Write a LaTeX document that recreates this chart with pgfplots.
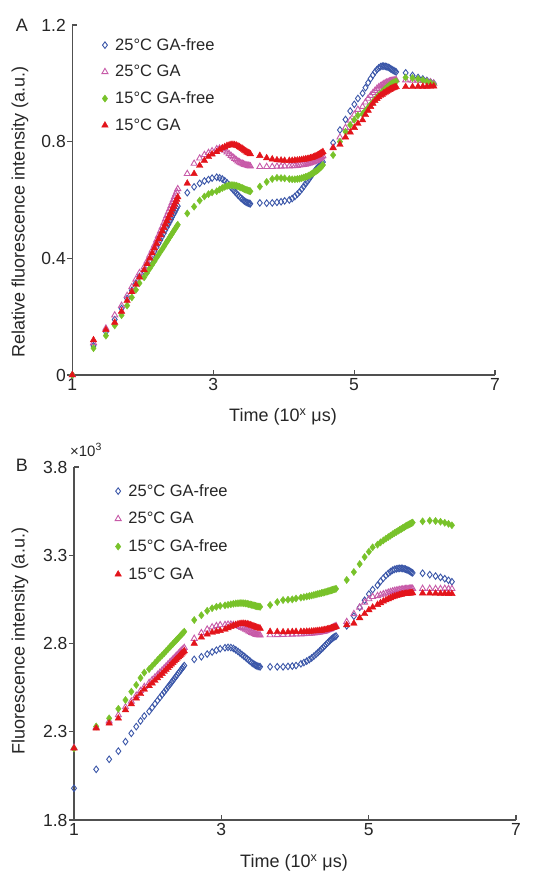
\documentclass[border=0pt]{standalone}
\usepackage{fontspec}
\setmainfont{Liberation Sans}
\usepackage{pgfplots}
\usepackage{pgfplotstable}
\pgfplotsset{compat=1.18}
\definecolor{cblue}{HTML}{3A56A8}
\definecolor{cpink}{HTML}{C75AA8}
\definecolor{cgreen}{HTML}{78C22A}
\definecolor{cred}{HTML}{E3141B}
\definecolor{axgray}{HTML}{505050}

\pgfplotstableread{
x b p g r
1.000 0 0 0 0
1.301 0.100 0.110 0.092 0.120
1.477 0.148 0.160 0.135 0.155
1.602 0.190 0.205 0.170 0.180
1.699 0.228 0.238 0.205 0.218
1.778 0.262 0.272 0.238 0.255
1.845 0.290 0.302 0.266 0.285
1.903 0.315 0.328 0.292 0.310
1.954 0.338 0.350 0.315 0.335
2.020 0.355 0.370 0.335 0.360
2.061 0.374 0.390 0.350 0.381
2.099 0.392 0.410 0.365 0.400
2.134 0.409 0.428 0.378 0.418
2.166 0.424 0.445 0.390 0.435
2.196 0.438 0.462 0.402 0.451
2.224 0.451 0.478 0.412 0.466
2.250 0.463 0.493 0.422 0.480
2.275 0.475 0.507 0.431 0.493
2.299 0.486 0.521 0.440 0.505
2.321 0.497 0.534 0.449 0.517
2.342 0.507 0.546 0.457 0.528
2.362 0.516 0.558 0.464 0.538
2.382 0.525 0.569 0.472 0.549
2.400 0.533 0.580 0.479 0.558
2.418 0.542 0.591 0.485 0.568
2.435 0.550 0.601 0.492 0.577
2.451 0.557 0.611 0.498 0.585
2.467 0.565 0.620 0.504 0.594
2.482 0.572 0.629 0.510 0.602
2.497 0.579 0.638 0.515 0.610
2.632 0.625 0.690 0.554 0.657
2.729 0.645 0.725 0.577 0.690
2.808 0.657 0.743 0.598 0.718
2.875 0.665 0.755 0.612 0.735
2.933 0.670 0.762 0.620 0.748
2.984 0.675 0.768 0.626 0.757
3.050 0.678 0.775 0.630 0.765
3.091 0.676 0.777 0.636 0.772
3.129 0.672 0.775 0.641 0.778
3.164 0.666 0.770 0.645 0.782
3.196 0.659 0.764 0.648 0.786
3.226 0.651 0.758 0.650 0.788
3.254 0.643 0.752 0.651 0.790
3.280 0.636 0.747 0.651 0.790
3.305 0.629 0.742 0.650 0.789
3.329 0.623 0.737 0.649 0.787
3.351 0.617 0.733 0.647 0.785
3.372 0.612 0.730 0.645 0.782
3.392 0.607 0.727 0.643 0.779
3.412 0.603 0.725 0.641 0.776
3.430 0.599 0.723 0.639 0.773
3.448 0.596 0.721 0.637 0.770
3.465 0.593 0.720 0.635 0.767
3.481 0.591 0.719 0.634 0.764
3.497 0.589 0.718 0.632 0.762
3.512 0.588 0.717 0.631 0.760
3.527 0.587 0.716 0.630 0.758
3.662 0.590 0.714 0.646 0.752
3.759 0.589 0.714 0.662 0.744
3.838 0.590 0.714 0.672 0.740
3.905 0.592 0.715 0.676 0.737
3.963 0.594 0.715 0.675 0.736
4.014 0.597 0.716 0.674 0.735
4.080 0.600 0.716 0.672 0.735
4.121 0.605 0.717 0.671 0.735
4.159 0.612 0.717 0.671 0.736
4.194 0.620 0.718 0.672 0.736
4.226 0.628 0.719 0.673 0.737
4.256 0.637 0.720 0.675 0.738
4.284 0.646 0.721 0.677 0.739
4.310 0.655 0.722 0.679 0.740
4.335 0.663 0.724 0.681 0.741
4.359 0.671 0.725 0.684 0.742
4.381 0.679 0.727 0.687 0.744
4.402 0.686 0.729 0.690 0.745
4.422 0.693 0.731 0.693 0.747
4.442 0.699 0.733 0.696 0.749
4.460 0.705 0.735 0.699 0.751
4.478 0.710 0.737 0.702 0.753
4.495 0.715 0.740 0.705 0.755
4.511 0.719 0.742 0.709 0.757
4.527 0.723 0.745 0.712 0.760
4.542 0.727 0.748 0.716 0.762
4.557 0.730 0.751 0.720 0.765
4.702 0.796 0.780 0.754 0.778
4.799 0.840 0.815 0.800 0.790
4.878 0.876 0.848 0.834 0.815
4.945 0.905 0.873 0.857 0.832
5.003 0.928 0.893 0.875 0.848
5.054 0.948 0.910 0.890 0.862
5.120 0.966 0.920 0.895 0.874
5.161 0.985 0.935 0.906 0.892
5.199 1.002 0.948 0.917 0.907
5.234 1.016 0.958 0.927 0.920
5.266 1.028 0.967 0.936 0.931
5.296 1.039 0.975 0.944 0.940
5.324 1.047 0.982 0.952 0.947
5.350 1.053 0.987 0.959 0.953
5.375 1.057 0.991 0.965 0.958
5.399 1.059 0.995 0.971 0.962
5.421 1.059 0.998 0.976 0.966
5.442 1.058 1.001 0.981 0.969
5.462 1.057 1.003 0.985 0.972
5.482 1.055 1.005 0.989 0.975
5.500 1.053 1.007 0.993 0.978
5.518 1.050 1.008 0.996 0.980
5.535 1.048 1.009 0.999 0.982
5.551 1.045 1.010 1.001 0.984
5.567 1.043 1.011 1.003 0.986
5.582 1.041 1.011 1.005 0.987
5.597 1.039 1.012 1.007 0.988
5.732 1.036 1.011 1.020 0.988
5.829 1.027 1.010 1.018 0.988
5.908 1.020 1.010 1.015 0.989
5.975 1.015 1.009 1.011 0.989
6.033 1.010 1.007 1.006 0.989
6.084 1.005 1.004 1.001 0.990
6.130 1.000 1.000 0.996 0.990
}\tableA

\pgfplotstableread{
x b p g r
1.000 1.980 2.210 2.205 2.206
1.301 2.087 2.325 2.330 2.320
1.477 2.144 2.360 2.376 2.348
1.602 2.190 2.395 2.430 2.376
1.699 2.244 2.440 2.480 2.423
1.778 2.291 2.472 2.527 2.457
1.845 2.329 2.505 2.565 2.490
1.903 2.361 2.532 2.605 2.515
1.954 2.389 2.555 2.635 2.540
2.020 2.415 2.578 2.655 2.560
2.061 2.437 2.594 2.673 2.575
2.099 2.458 2.609 2.690 2.590
2.134 2.477 2.623 2.706 2.604
2.166 2.494 2.636 2.720 2.617
2.196 2.510 2.648 2.733 2.629
2.224 2.525 2.660 2.745 2.641
2.250 2.539 2.671 2.757 2.652
2.275 2.553 2.682 2.768 2.663
2.299 2.566 2.692 2.779 2.673
2.321 2.578 2.701 2.789 2.682
2.342 2.590 2.710 2.798 2.691
2.362 2.601 2.719 2.807 2.700
2.382 2.612 2.727 2.816 2.708
2.400 2.622 2.735 2.824 2.716
2.418 2.632 2.743 2.832 2.724
2.435 2.641 2.750 2.840 2.731
2.451 2.650 2.757 2.847 2.738
2.467 2.659 2.764 2.854 2.745
2.482 2.667 2.770 2.861 2.751
2.497 2.675 2.776 2.867 2.757
2.632 2.710 2.828 2.933 2.800
2.729 2.725 2.860 2.960 2.835
2.808 2.740 2.880 2.985 2.852
2.875 2.752 2.893 3.000 2.862
2.933 2.762 2.900 3.008 2.868
2.984 2.770 2.905 3.013 2.872
3.050 2.776 2.906 3.016 2.880
3.091 2.778 2.908 3.019 2.888
3.129 2.777 2.908 3.022 2.895
3.164 2.772 2.906 3.025 2.901
3.196 2.764 2.903 3.027 2.906
3.226 2.755 2.899 3.028 2.910
3.254 2.746 2.895 3.029 2.912
3.280 2.737 2.890 3.029 2.913
3.305 2.729 2.885 3.028 2.913
3.329 2.721 2.880 3.027 2.912
3.351 2.713 2.875 3.025 2.910
3.372 2.706 2.870 3.023 2.908
3.392 2.699 2.866 3.021 2.905
3.412 2.692 2.862 3.019 2.902
3.430 2.686 2.858 3.017 2.899
3.448 2.681 2.855 3.015 2.896
3.465 2.677 2.852 3.013 2.893
3.481 2.674 2.850 3.011 2.891
3.497 2.671 2.849 3.010 2.889
3.512 2.669 2.848 3.009 2.887
3.527 2.668 2.847 3.008 2.885
3.662 2.668 2.848 3.018 2.867
3.759 2.668 2.849 3.035 2.866
3.838 2.668 2.850 3.046 2.865
3.905 2.670 2.851 3.048 2.865
3.963 2.672 2.852 3.050 2.866
4.014 2.675 2.853 3.055 2.867
4.080 2.685 2.853 3.060 2.867
4.121 2.692 2.854 3.063 2.867
4.159 2.700 2.855 3.066 2.868
4.194 2.709 2.856 3.069 2.868
4.226 2.718 2.857 3.072 2.869
4.256 2.728 2.858 3.075 2.870
4.284 2.738 2.860 3.078 2.871
4.310 2.748 2.861 3.081 2.872
4.335 2.758 2.863 3.083 2.873
4.359 2.768 2.865 3.086 2.874
4.381 2.777 2.867 3.088 2.876
4.402 2.786 2.869 3.090 2.877
4.422 2.795 2.872 3.093 2.879
4.442 2.803 2.875 3.095 2.881
4.460 2.811 2.878 3.097 2.883
4.478 2.818 2.881 3.100 2.885
4.495 2.825 2.885 3.102 2.887
4.511 2.830 2.889 3.104 2.889
4.527 2.835 2.893 3.106 2.891
4.542 2.839 2.897 3.108 2.893
4.557 2.842 2.900 3.110 2.895
4.702 2.900 2.923 3.160 2.905
4.799 2.955 2.968 3.205 2.914
4.878 3.005 3.005 3.250 2.945
4.945 3.045 3.033 3.290 2.968
5.003 3.080 3.052 3.320 2.990
5.054 3.105 3.065 3.345 3.005
5.120 3.130 3.070 3.360 3.020
5.161 3.152 3.075 3.373 3.030
5.199 3.170 3.080 3.384 3.039
5.234 3.185 3.085 3.394 3.046
5.266 3.197 3.089 3.403 3.052
5.296 3.207 3.093 3.411 3.058
5.324 3.215 3.096 3.419 3.063
5.350 3.220 3.099 3.426 3.067
5.375 3.223 3.101 3.432 3.070
5.399 3.225 3.103 3.438 3.073
5.421 3.226 3.105 3.444 3.076
5.442 3.226 3.106 3.449 3.078
5.462 3.225 3.107 3.454 3.080
5.482 3.223 3.108 3.459 3.081
5.500 3.221 3.109 3.464 3.082
5.518 3.218 3.110 3.468 3.083
5.535 3.215 3.110 3.472 3.084
5.551 3.211 3.111 3.476 3.085
5.567 3.207 3.111 3.479 3.085
5.582 3.203 3.111 3.482 3.086
5.597 3.200 3.111 3.485 3.086
5.732 3.198 3.111 3.492 3.085
5.829 3.190 3.111 3.496 3.085
5.908 3.182 3.110 3.494 3.084
5.975 3.175 3.110 3.490 3.083
6.033 3.167 3.111 3.484 3.083
6.084 3.158 3.110 3.478 3.082
6.130 3.150 3.110 3.470 3.082
}\tableB

\pgfplotsset{
  panel/.style={
    scale only axis,
    axis lines*=left,
    xmin=1, xmax=7, xtick={1,3,5,7},
    clip=false,
    axis line style={line width=1.2pt, draw=axgray},
    tick style={line width=1.1pt, draw=axgray},
    tick align=inside,
    major tick length=5pt,
    ytick style={xshift=-5pt},
    extra y tick style={ytick style={xshift=5pt}},
    yticklabel style={xshift=-3pt},
    ticklabel style={font=\fontsize{17.5}{20}\selectfont, text=black!85},
    /pgf/number format/assume math mode=true,
    legend style={draw=none, fill=none, font=\fontsize{16.5}{19}\selectfont,
      inner sep=0pt, anchor=north west, text=black!85,
      /tikz/every odd column/.append style={column sep=5pt}},
    legend cell align=left,
  },
  sblue/.style={only marks, mark=diamond, mark size=3.3pt, color=cblue, mark options={line width=0.9pt}},
  spink/.style={only marks, mark=triangle, mark size=3.5pt, color=cpink, mark options={line width=0.9pt}},
  sgreen/.style={only marks, mark=diamond*, mark size=3.6pt, color=cgreen},
  sred/.style={only marks, mark=triangle*, mark size=3.8pt, color=cred},
}

\begin{document}
\begin{tikzpicture}
\path[use as bounding box] (0pt,0pt) rectangle (535pt,872pt);

\begin{axis}[panel, at={(72.3pt,497pt)}, anchor=south west,
  width=422.7pt, height=350pt, ymin=0, ymax=1.2, ytick={0,0.4,0.8},
  extra y ticks={1.2},
  legend style={at={(0.069,0.968)}, row sep=9.5pt}]
\addplot[sblue] table[x=x,y=b]{\tableA};
\addlegendentry{25°C GA-free}
\addplot[spink] table[x=x,y=p]{\tableA};
\addlegendentry{25°C GA}
\addplot[sgreen] table[x=x,y=g]{\tableA};
\addlegendentry{15°C GA-free}
\addplot[sred] table[x=x,y=r]{\tableA};
\addlegendentry{15°C GA}
\end{axis}

\begin{axis}[panel, at={(74pt,52pt)}, anchor=south west,
  width=442pt, height=353pt, ymin=1.8, ymax=3.8, ytick={1.8,2.3,2.8,3.3},
  extra y ticks={3.8},
  yticklabel style={/pgf/number format/fixed, /pgf/number format/precision=1},
  extra y tick style={yticklabel style={/pgf/number format/fixed, /pgf/number format/precision=1}},
  legend style={at={(0.092,0.957)}, row sep=10.5pt}]
\addplot[sblue] table[x=x,y=b]{\tableB};
\addlegendentry{25°C GA-free}
\addplot[spink] table[x=x,y=p]{\tableB};
\addlegendentry{25°C GA}
\addplot[sgreen] table[x=x,y=g]{\tableB};
\addlegendentry{15°C GA-free}
\addplot[sred] table[x=x,y=r]{\tableB};
\addlegendentry{15°C GA}
\end{axis}

\begin{scope}[every node/.style={font=\fontsize{18}{21}\selectfont, text=black!85}]
\node at (22pt,847pt) {A};
\node at (22pt,407pt) {B};
\node at (283pt,455pt) {Time (10\textsuperscript{x} μs)};
\node at (294pt,9pt) {Time (10\textsuperscript{x} μs)};
\node[rotate=90] at (20pt,660pt) {Relative fluorescence intensity (a.u.)};
\node[rotate=90] at (20pt,231pt) {Fluorescence intensity (a.u.)};
\node[font=\fontsize{15}{18}\selectfont] at (86pt,422pt) {×10\textsuperscript{3}};
\end{scope}
\end{tikzpicture}
\end{document}
